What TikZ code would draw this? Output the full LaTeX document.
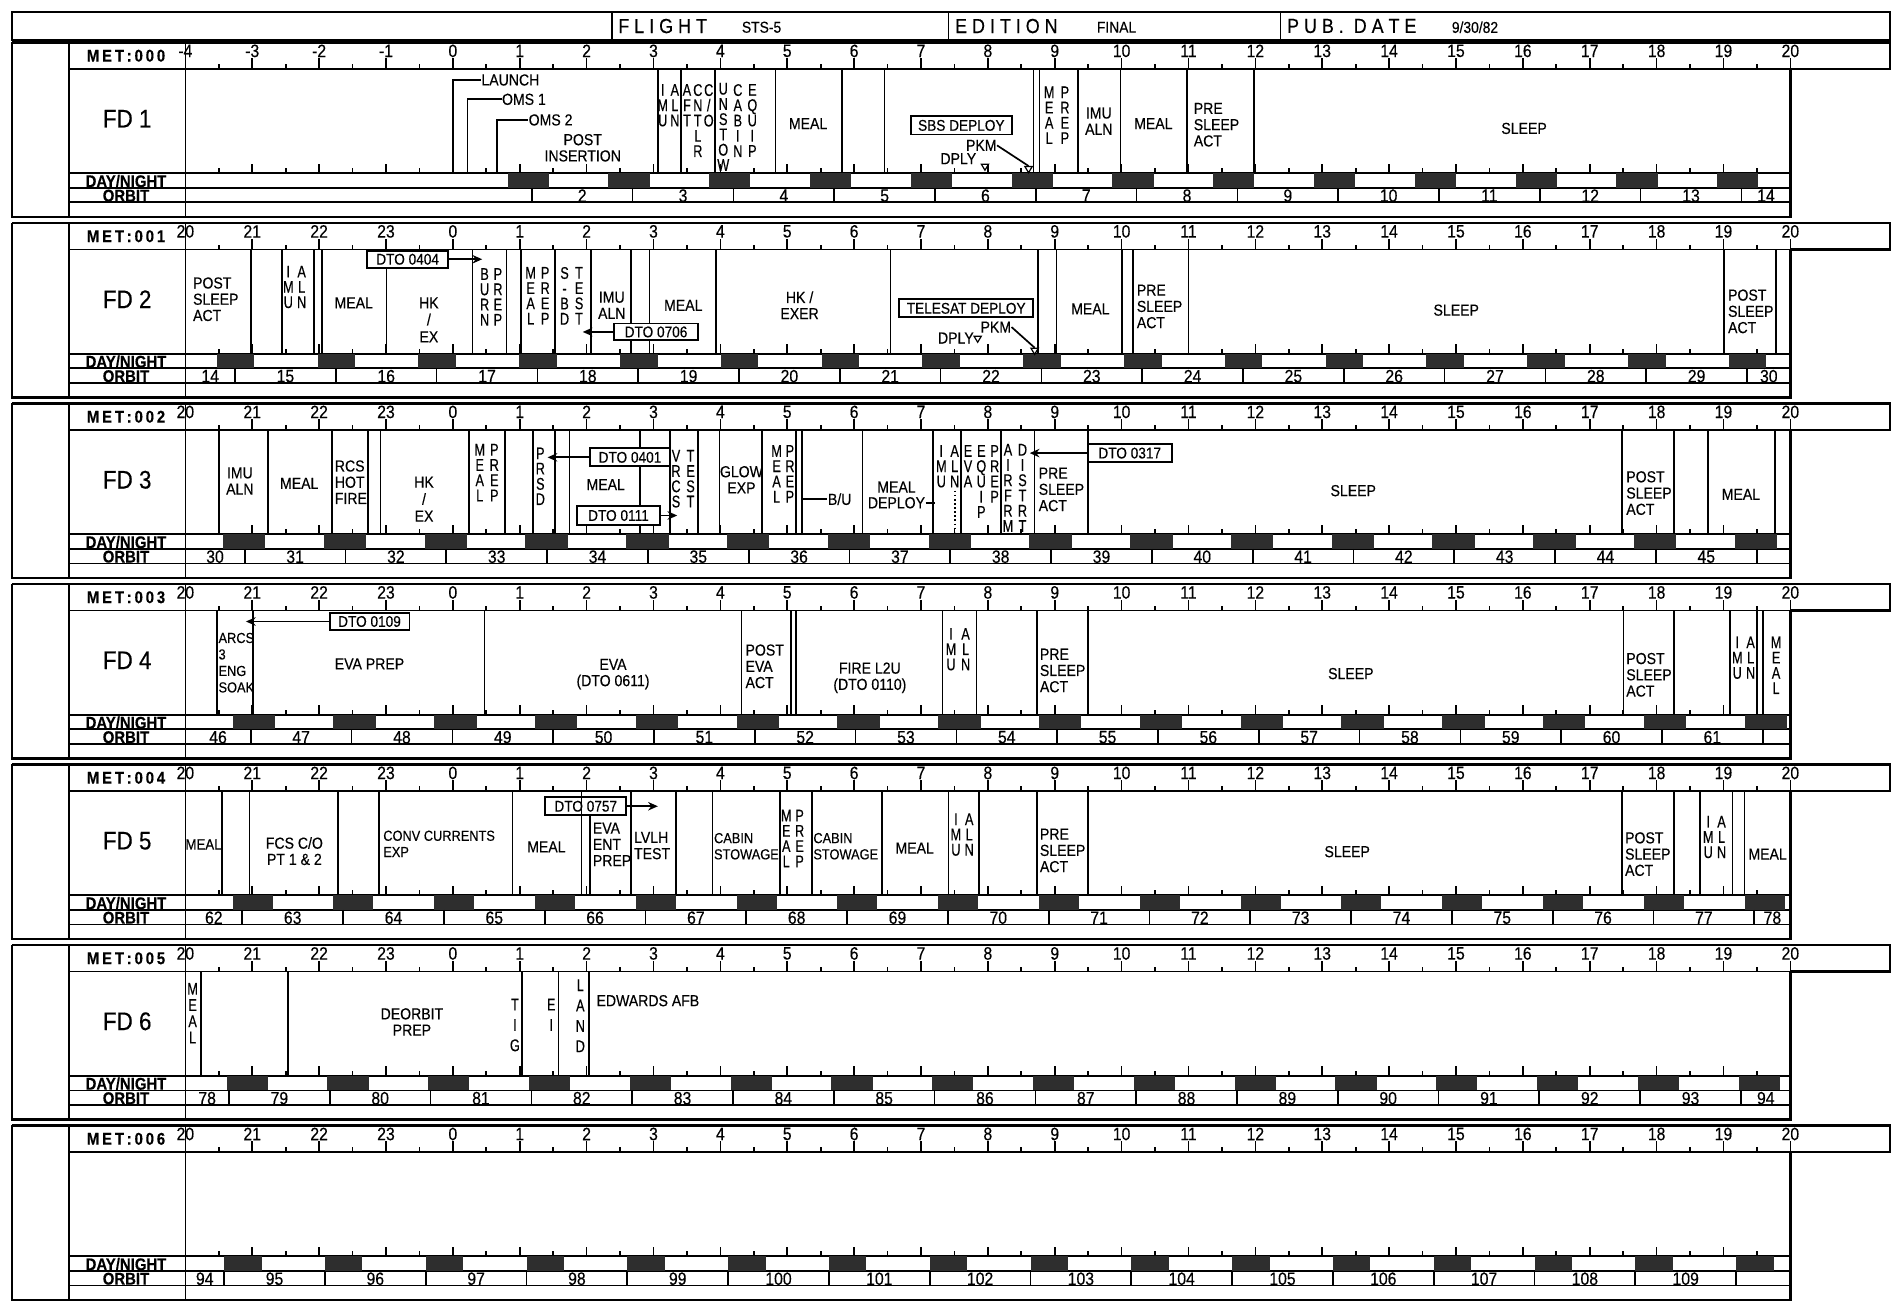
\documentclass[tikz,border=0pt]{standalone}
\usepackage{fontspec}
\setmainfont{Liberation Sans}[FakeStretch=0.88,FakeBold=0.3]
\newfontfamily\narrowfont{Liberation Sans}[FakeStretch=0.75,FakeBold=0.3]
\usetikzlibrary{arrows.meta}

\tikzset{
  blk/.style={line width=1pt},
  act/.style={line width=0.7pt},
  lab/.style={font=\fontsize{6.6}{6.7}\selectfont, inner sep=0pt, align=center},
  labl/.style={font=\fontsize{6.6}{6.7}\selectfont, inner sep=0pt, align=left, anchor=west},
  vst/.style={font=\narrowfont\fontsize{7}{6.3}\selectfont, inner sep=0pt, align=center, anchor=north},
  vstw/.style={vst, font=\narrowfont\fontsize{7}{8.4}\selectfont},
  hr/.style={font=\fontsize{7.4}{7.4}\selectfont, inner sep=0pt},
  orb/.style={font=\fontsize{7.4}{7.4}\selectfont, inner sep=0pt},
  metlab/.style={font=\fontsize{7}{7}\selectfont\bfseries, inner sep=0pt},
  fdlab/.style={font=\fontsize{10.5}{10.5}\selectfont, inner sep=0pt},
  dnlab/.style={font=\fontsize{7}{7}\selectfont\bfseries, inner sep=0pt},
  dto/.style={draw, fill=white, line width=0.8pt, font=\fontsize{6.4}{6.4}\selectfont, inner sep=0pt, minimum height=7pt},
  mk/.style={act, -{Stealth[length=4pt,width=3.5pt]}},
  night/.style={fill=black!82},
  hdr/.style={font=\fontsize{8.4}{8.4}\selectfont, inner sep=0pt, anchor=west},
  hdrs/.style={font=\fontsize{6.5}{6.5}\selectfont, inner sep=0pt, anchor=west},
}

\newcommand\blockframe[3]{%
  \draw[blk] (10,0) -- (1560,0) -- (1560,22) -- (1478,22);
  \draw[blk] (10,0) -- (10,144) -- (1478,144) -- (1478,22);
  \draw[act] (57,0) -- (57,144);
  \draw[act] (153,0) -- (153,144);
  \draw[act] (57,22) -- (1478,22);
  \draw[act] (57,108) -- (1478,108);
  \draw[act] (57,120) -- (1478,120);
  \draw[act] (57,132) -- (1478,132);
  \node[metlab] (#1met) at (104,11) {M\,E\,T\,:\,0\,0\,#2};
  \node[fdlab] (#1fd) at (105,63) {#3};
  \node[dnlab] (#1dn) at (104,114.5) {DAY/NIGHT};
  \node[dnlab] (#1or) at (104,126.5) {ORBIT};
  \foreach \i in {0,...,24} {\draw[act] ({153+55.2*\i},22) -- ++(0,-9); \draw[act] ({153+55.2*\i},108) -- ++(0,-8);}
  \foreach \i in {0,...,23} {\draw[act] ({180.6+55.2*\i},22) -- ++(0,-4); \draw[act] ({180.6+55.2*\i},108) -- ++(0,-4);}
}
\newcommand\hours[2]{\foreach \hrtxt [count=\i from 0] in {#2} {\node[hr] (#1h\i) at ({153+55.2*\i},7) {\hrtxt};}}
\newcommand\stdhrs[1]{\hours{#1}{20,21,22,23,0,1,2,3,4,5,6,7,8,9,10,11,12,13,14,15,16,17,18,19,20}}
\newcommand\orbitrow[4]{%
  \foreach \k in {0,...,16} {%
    \pgfmathsetmacro\xa{#2+83.2*\k}%
    \ifdim\xa pt<1474pt \draw[act] (\xa,120) -- (\xa,132);\fi}%
  \node[orb] (#1o0) at ({(153+#2)/2},126.5) {#3};%
  \foreach \on [count=\k from 0] in {#4} {%
    \pgfmathsetmacro\cx{min(#2+83.2*\k+41.6,(#2+83.2*\k+1478)/2)}%
    \node[orb] (#1o\on) at (\cx,126.5) {\on};}%
}
\newcommand\daynight[2]{%
  \begin{scope}\clip (153,108) rectangle (1478,120);
  \foreach \k in {0,...,16} {\fill[night] ({#1+83.2*\k},108) rectangle ++(#2,12);}
  \end{scope}}
\newcommand\vlines[1]{\foreach \x in {#1} {\draw[act] (\x,22) -- (\x,108);}}
\newcommand\tri[2]{\draw[line width=0.5pt] ({#1-3},{#2-2.5}) -- ({#1+3},{#2-2.5}) -- (#1,{#2+2.5}) -- cycle;}

\begin{document}
\begin{tikzpicture}[x=0.5pt,y=-0.5pt]
\useasboundingbox (0,0) rectangle (1565,1081);
\fill[white] (0,0) rectangle (1565,1081);

% header
\draw[blk] (10,10) rectangle (1560,33);
\draw[act] (505,10) -- (505,33);
\draw[act] (783,10) -- (783,33);
\draw[act] (1057,10) -- (1057,33);
\node[hdr] (hf) at (510,21.5) {F L I G H T};
\node[hdrs] (hs) at (612,22.5) {STS-5};
\node[hdr] (he) at (788,21.5) {E D I T I O N};
\node[hdrs] (hfin) at (905,22.5) {FINAL};
\node[hdr] (hp) at (1062,21.5) {P U B .\ \ D A T E};
\node[hdrs] (hd) at (1198,22.5) {9/30/82};

% ===== FD 1 =====
\begin{scope}[shift={(0,35)}]
\blockframe{a}{0}{FD 1}
\hours{a}{-4,-3,-2,-1,0,1,2,3,4,5,6,7,8,9,10,11,12,13,14,15,16,17,18,19,20}
\daynight{419}{34}
\orbitrow{a}{439}{}{2,...,14}
\vlines{543,562,590,640,695,730,853,858,890,925,980,1035}
\node[labl] (alaunch) at (397,31) {LAUNCH};
\coordinate (alb) at (374,108);
\draw[act] (alb) |- (alaunch.west);
\node[labl] (aoms1) at (414,47) {OMS 1};
\coordinate (ao1b) at (386,108);
\draw[act] (ao1b) |- (aoms1.west);
\node[labl] (aoms2) at (436,64) {OMS 2};
\coordinate (ao2b) at (410,108);
\draw[act] (ao2b) |- (aoms2.west);
\node[lab] (apost) at (481,87) {POST\\INSERTION};
\node[vst] (aimu) at (547,34) {I\\M\\U};
\node[vst] (aaln) at (557,34) {A\\L\\N};
\node[vst] (aaft) at (567,34) {A\\F\\T};
\node[vst] (acnt) at (576,34) {C\\N\\T\\L\\R};
\node[vst] (aco) at (585,34) {C\\/\\O};
\node[vst] (aunst) at (597,33) {U\\N\\S\\T\\O\\W};
\node[vst] (acab) at (609,34) {C\\A\\B\\I\\N};
\node[vst] (aeq) at (621,34) {E\\Q\\U\\I\\P};
\node[lab] (ameal1) at (667,67) {MEAL};
\node[dto, minimum width=41.5pt, minimum height=7.5pt] (asbs) at (793.5,68.5) {SBS DEPLOY};
\node[lab] (apkm) at (810,85) {PKM};
\coordinate (apkmt) at (849,102);
\draw[act] (apkm.east) -- (apkmt);
\tri{849}{105}
\node[lab] (adply) at (791,96) {DPLY};
\tri{813}{103}
\node[vst] (amp1) at (866,36) {M\\E\\A\\L};
\node[vst] (amp2) at (879,36) {P\\R\\E\\P};
\node[lab] (aimu2) at (907,65) {IMU\\ALN};
\node[lab] (ameal2) at (952,67) {MEAL};
\node[labl] (apre) at (985,68) {PRE\\SLEEP\\ACT};
\node[lab] (asleep) at (1258,71) {SLEEP};
\end{scope}

% ===== FD 2 =====
\begin{scope}[shift={(0,184)}]
\blockframe{b}{1}{FD 2}
\stdhrs{b}
\daynight{179}{31}
\orbitrow{b}{194}{14}{15,...,30}
\vlines{207,233,259,266,319,390,418,430,458,488,521,536,591,735,857,872,926,935,981,1423,1466}
\node[labl] (bpost) at (159,63) {POST\\SLEEP\\ACT};
\node[vst] (bimu) at (238,35) {I\\M\\U};
\node[vst] (baln) at (249,35) {A\\L\\N};
\node[lab] (bmeal1) at (292,66) {MEAL};
\node[dto, minimum width=33.5pt] (b404) at (336.5,30) {DTO 0404};
\coordinate (bm404) at (398,30);
\draw[mk] (b404.east) -- (bm404);
\node[lab, font=\fontsize{6.6}{7}\selectfont] (bhk) at (354,80) {HK\\/\\EX};
\node[vst] (bburn) at (400,37) {B\\U\\R\\N};
\node[vst] (bprep) at (411,37) {P\\R\\E\\P};
\node[vst] (bmp1) at (438,36) {M\\E\\A\\L};
\node[vst] (bmp2) at (450,36) {P\\R\\E\\P};
\node[vst] (bsbd) at (466,36) {S\\-\\B\\D};
\node[vst] (btest) at (478,36) {T\\E\\S\\T};
\node[dto, minimum width=34.5pt] (b706) at (541.5,90) {DTO 0706};
\coordinate (bm706) at (481,90);
\draw[mk] (b706.west) -- (bm706);
\node[lab] (bimu2) at (505,68) {IMU\\ALN};
\node[lab] (bmeal2) at (564,68) {MEAL};
\node[lab] (bhk2) at (660,68) {HK /\\EXER};
\node[dto, minimum width=55.5pt, minimum height=7.5pt] (btel) at (797.5,70.5) {TELESAT DEPLOY};
\node[lab] (bpkm) at (822,86) {PKM};
\coordinate (bpkmt) at (854,103);
\draw[act] (bpkm.east) -- (bpkmt);
\tri{854}{106}
\node[lab] (bdply) at (789,95) {DPLY};
\tri{807}{96}
\node[lab] (bmeal3) at (900,71) {MEAL};
\node[labl] (bpre) at (938,69) {PRE\\SLEEP\\ACT};
\node[lab] (bsleep) at (1202,72) {SLEEP};
\node[labl] (bpost2) at (1426,73) {POST\\SLEEP\\ACT};
\end{scope}

% ===== FD 3 =====
\begin{scope}[shift={(0,333)}]
\blockframe{c}{2}{FD 3}
\stdhrs{c}
\daynight{184}{35}
\orbitrow{c}{202}{30}{31,...,45}
\vlines{181,221,274,304,314,387,417,440,458,470,528,553,576,594,629,657,662,712,770,793,826,854,898,1339,1382,1410,1465}
\node[lab] (cimu) at (198,64) {IMU\\ALN};
\node[lab] (cmeal1) at (247,66) {MEAL};
\node[labl] (crcs) at (276,65) {RCS\\HOT\\FIRE};
\node[lab, font=\fontsize{6.6}{7}\selectfont] (chk) at (350,79) {HK\\/\\EX};
\node[vst] (cmp1) at (396,33) {M\\E\\A\\L};
\node[vst] (cmp2) at (408,33) {P\\R\\E\\P};
\node[vst] (cprsd) at (446,36) {P\\R\\S\\D};
\node[dto, minimum width=33pt, minimum height=7.5pt] (c401) at (520,44.5) {DTO 0401};
\coordinate (cm401) at (452,44.5);
\draw[mk] (c401.west) -- (cm401);
\node[lab] (cmeal2) at (500,67) {MEAL};
\node[dto, minimum width=34.5pt, minimum height=7.5pt] (c111) at (510.5,92.5) {DTO 0111};
\coordinate (cm111) at (559,92.5);
\draw[mk] (c111.east) -- (cm111);
\node[vst] (cvrcs) at (558,38) {V\\R\\C\\S};
\node[vst] (ctest) at (570,38) {T\\E\\S\\T};
\node[lab] (cglow) at (612,63) {GLOW\\EXP};
\node[vst] (cmp3) at (641,34) {M\\E\\A\\L};
\node[vst] (cmp4) at (652,34) {P\\R\\E\\P};
\node[labl] (cbu) at (683,79) {B/U};
\coordinate (cbul) at (662,79);
\draw[act] (cbul) -- (cbu.west);
\node[lab] (cmeal3) at (740,69) {MEAL};
\node[labl] (cdep) at (716,82) {DEPLOY};
\coordinate (cdepe) at (772,82);
\draw[act] (cdep.east) -- (cdepe);
\node[vst] (cimu2) at (777,34) {I\\M\\U};
\node[vst] (caln2) at (788,34) {A\\L\\N};
\draw[act, densely dotted] (788,72) -- (788,106);
\node[vst] (ceva) at (799,34) {E\\V\\A};
\node[vst] (ceq) at (810,34) {E\\Q\\U\\I\\P};
\node[vst] (cprep) at (821,34) {P\\R\\E\\P};
\node[vst] (cair) at (832,33) {A\\I\\R\\F\\R\\M};
\node[vst] (cdis) at (844,33) {D\\I\\S\\T\\R\\T};
\node[dto, minimum width=34.5pt, minimum height=7.5pt] (c317) at (932.5,41) {DTO 0317};
\coordinate (cm317) at (850,41);
\draw[mk] (c317.west) -- (cm317);
\node[labl] (cpre) at (857,71) {PRE\\SLEEP\\ACT};
\node[lab] (csleep) at (1117,72) {SLEEP};
\node[labl] (cpost) at (1342,74) {POST\\SLEEP\\ACT};
\node[lab] (cmeal4) at (1437,75) {MEAL};
\end{scope}

% ===== FD 4 =====
\begin{scope}[shift={(0,482)}]
\blockframe{d}{3}{FD 4}
\stdhrs{d}
\daynight{192}{35}
\orbitrow{d}{207}{46}{47,...,61}
\vlines{179,209,400,612,653,657,778,806,856,898,1340,1382,1428,1450,1455}
\node[dto, minimum width=33pt] (d109) at (305,31) {DTO 0109};
\coordinate (dm109) at (203,31);
\draw[mk] (d109.west) -- (dm109);
\node[labl, font=\fontsize{6}{6.8}\selectfont] (darcs) at (180,65) {ARCS\\3\\ENG\\SOAK};
\node[lab] (devap) at (305,66) {EVA PREP};
\node[lab] (deva) at (506,74.5) {EVA\\(DTO 0611)};
\node[labl] (dpost) at (615,68) {POST\\EVA\\ACT};
\node[lab] (dfire) at (718,77.5) {FIRE L2U\\(DTO 0110)};
\node[vst] (dimu) at (785,36) {I\\M\\U};
\node[vst] (daln) at (797,36) {A\\L\\N};
\node[labl] (dpre) at (858,71.5) {PRE\\SLEEP\\ACT};
\node[lab] (dsleep) at (1115,74) {SLEEP};
\node[labl] (dpost2) at (1342,75) {POST\\SLEEP\\ACT};
\node[vst] (dimu2) at (1434,43) {I\\M\\U};
\node[vst] (daln2) at (1445,43) {A\\L\\N};
\node[vst] (dmeal) at (1466,43) {M\\E\\A\\L};
\end{scope}

% ===== FD 5 =====
\begin{scope}[shift={(0,631)}]
\blockframe{e}{4}{FD 5}
\stdhrs{e}
\daynight{192}{33}
\orbitrow{e}{200}{62}{63,...,78}
\vlines{183,206,279,313,423,480,521,558,588,644,670,728,783,808,856,898,1339,1382,1403,1430,1440}
\draw[act] (487,42) -- (487,108);
\node[lab, font=\fontsize{6.2}{6.7}\selectfont] (emeal1) at (168,66) {MEAL};
\node[lab] (efcs) at (243,71.5) {FCS C/O\\PT 1 \& 2};
\node[labl, font=\fontsize{6}{6.7}\selectfont] (econv) at (316,65.5) {CONV CURRENTS\\EXP};
\node[lab] (emeal2) at (451,68) {MEAL};
\node[dto, fill=none, minimum width=33.5pt, minimum height=7.5pt] (e757) at (483.5,34.5) {DTO 0757};
\coordinate (em757) at (543,34.5);
\draw[mk] (e757.east) -- (em757);
\node[labl] (eeva) at (489,66) {EVA\\ENT\\PREP};
\node[labl] (elvlh) at (523,67) {LVLH\\TEST};
\node[labl, font=\fontsize{6}{6.7}\selectfont] (ecab1) at (589,67.5) {CABIN\\STOWAGE};
\node[vst] (emp1) at (649,37) {M\\E\\A\\L};
\node[vst] (emp2) at (660,37) {P\\R\\E\\P};
\node[labl, font=\fontsize{6}{6.7}\selectfont] (ecab2) at (671,67.5) {CABIN\\STOWAGE};
\node[lab] (emeal3) at (755,69) {MEAL};
\node[vst] (eimu) at (789,40) {I\\M\\U};
\node[vst] (ealn) at (800,40) {A\\L\\N};
\node[labl] (epre) at (858,71) {PRE\\SLEEP\\ACT};
\node[lab] (esleep) at (1112,72) {SLEEP};
\node[labl] (epost) at (1341,74) {POST\\SLEEP\\ACT};
\node[vst] (eimu2) at (1410,42) {I\\M\\U};
\node[vst] (ealn2) at (1421,42) {A\\L\\N};
\node[lab] (emeal4) at (1459,74) {MEAL};
\end{scope}

% ===== FD 6 =====
\begin{scope}[shift={(0,780)}]
\blockframe{f}{5}{FD 6}
\stdhrs{f}
\daynight{187}{34}
\orbitrow{f}{189}{78}{79,...,94}
\vlines{166,238,431,461,486}
\node[vst, font=\narrowfont\fontsize{7}{6.7}\selectfont] (fmeal) at (159,31) {M\\E\\A\\L};
\node[lab] (fdeorb) at (340,63.5) {DEORBIT\\PREP};
\node[vstw] (ftig) at (425,44) {T\\I\\G};
\node[vstw] (fei) at (455,44) {E\\I};
\node[vstw] (fland) at (479,28) {L\\A\\N\\D};
\node[labl] (fedw) at (492,46) {EDWARDS AFB};
\end{scope}

% ===== MET 006 =====
\begin{scope}[shift={(0,929)}]
\blockframe{g}{6}{}
\stdhrs{g}
\daynight{185}{31}
\orbitrow{g}{185}{94}{95,...,109}
\end{scope}

\end{tikzpicture}
\end{document}
